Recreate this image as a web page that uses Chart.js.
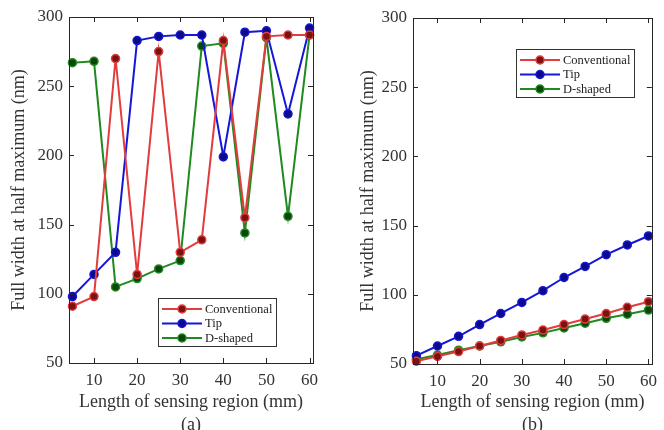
<!DOCTYPE html>
<html>
<head>
<meta charset="utf-8">
<script src="https://cdn.jsdelivr.net/npm/chart.js@4.4.0/dist/chart.umd.min.js"></script>
<style>
    html, body { margin: 0; padding: 0; background: #fff; overflow: hidden; width: 664px; height: 430px; }
    #wrap { position: relative; width: 664px; height: 430px; }
    canvas { position: absolute; top: 0; }
    #chartA { left: 0; }
    #chartB { left: 332px; }
</style>
</head>
<body>
<div id="wrap">
    <canvas id="chartA" width="332" height="440"></canvas>
    <canvas id="chartB" width="332" height="440"></canvas>
</div>
<script>
const lengths = [5, 10, 15, 20, 25, 30, 35, 40, 45, 50, 55, 60];
const xTicks = [10, 20, 30, 40, 50, 60];
const yTicks = [50, 100, 150, 200, 250, 300];
const seriesNames = ['Conventional', 'Tip', 'D-shaped'];

// (a)
const convA = [91, 98, 270, 114, 275, 130, 139, 283, 155, 286, 287, 287];
const tipA  = [98, 114, 130, 283, 286, 287, 287, 199, 289, 290, 230, 292];
const dA    = [267, 268, 105, 111, 118, 124, 279, 281, 144, 285, 156, 287];

// (b)
const convB = [52, 55.5, 59, 63, 67, 71, 74.5, 78.5, 82.5, 86.5, 91, 95];
const tipB  = [56, 63, 70, 78.5, 86.5, 94.5, 103, 112.5, 120.5, 129, 136, 142.5];
const dB    = [53.5, 56.5, 60, 63, 66, 69.5, 72.5, 76, 79.5, 83, 86, 89];

const lineColors = ['#e23c3c', '#1616d6', '#1f8a1f'];
const markerFill = ['#7a1212', '#0b0b8a', '#0c440c'];

const serif = 'Liberation Serif, Times New Roman, serif';
const ink = '#333333';

// box, inward ticks on all four sides, and legend inside the plot
const framePlugin = {
    id: 'frame',
    afterDatasetsDraw(chart, args, o) {
        const { ctx, chartArea: a, scales: { x, y } } = chart;
        ctx.save();
        ctx.strokeStyle = '#262626';
        ctx.lineWidth = 1;
        ctx.beginPath();
        xTicks.forEach(v => {
            const p = Math.round(x.getPixelForValue(v)) + 0.5;
            ctx.moveTo(p, a.bottom); ctx.lineTo(p, a.bottom - 5);
            ctx.moveTo(p, a.top); ctx.lineTo(p, a.top + 5);
        });
        yTicks.forEach(v => {
            const p = Math.round(y.getPixelForValue(v)) + 0.5;
            ctx.moveTo(a.left, p); ctx.lineTo(a.left + 5, p);
            ctx.moveTo(a.right, p); ctx.lineTo(a.right - 5, p);
        });
        ctx.stroke();
        ctx.strokeRect(Math.round(a.left) + 0.5, Math.round(a.top) + 0.5,
            Math.round(a.right - a.left), Math.round(a.bottom - a.top));

        // legend
        const lx = o.lx, ly = o.ly;
        ctx.fillStyle = '#fff';
        ctx.fillRect(lx, ly, 118, 48);
        ctx.strokeStyle = '#333';
        ctx.strokeRect(lx + 0.5, ly + 0.5, 118, 48);
        ctx.font = '12.5px ' + serif;
        ctx.textBaseline = 'middle';
        chart.data.datasets.forEach((ds, i) => {
            const yy = ly + 11 + i * 14.5;
            ctx.strokeStyle = ds.borderColor;
            ctx.lineWidth = 2;
            ctx.beginPath();
            ctx.moveTo(lx + 4, yy); ctx.lineTo(lx + 44, yy);
            ctx.stroke();
            ctx.beginPath();
            ctx.arc(lx + 24, yy, 4, 0, Math.PI * 2);
            ctx.fillStyle = ds.pointBackgroundColor;
            ctx.fill();
            ctx.lineWidth = 1.5;
            ctx.stroke();
            ctx.fillStyle = '#222';
            ctx.fillText(ds.label, lx + 47, yy + 0.5);
        });
        ctx.restore();
    }
};

function makeSets(series) {
    return series.map((vals, i) => ({
        label: seriesNames[i],
        data: lengths.map((l, k) => ({ x: l, y: vals[k] })),
        borderColor: lineColors[i],
        backgroundColor: lineColors[i],
        pointBackgroundColor: markerFill[i],
        pointBorderColor: lineColors[i],
        borderWidth: 2,
        pointRadius: 4,
        pointBorderWidth: 1.5,
        tension: 0,
        clip: false
    }));
}

function makeChart(id, series, panel, cfg) {
    return new Chart(document.getElementById(id), {
        type: 'line',
        data: { datasets: makeSets(series) },
        options: {
            responsive: false,
            animation: false,
            devicePixelRatio: 1,
            layout: { autoPadding: false, padding: cfg.padding },
            plugins: {
                legend: { display: false },
                tooltip: { enabled: false },
                frame: { lx: cfg.lx, ly: cfg.ly }
            },
            scales: {
                x: {
                    type: 'linear', min: 4.2, max: 60.8,
                    afterBuildTicks: s => { s.ticks = xTicks.map(v => ({ value: v })); },
                    afterFit: s => { s.height = cfg.xh; },
                    grid: { display: false, drawTicks: false },
                    border: { display: false },
                    ticks: { color: ink, padding: 7, maxRotation: 0, font: { family: serif, size: 17 } },
                    title: {
                        display: true,
                        text: ['Length of sensing region (mm)', panel],
                        color: ink,
                        padding: { top: 0, bottom: 3.5 },
                        font: { family: serif, size: 18, lineHeight: 1.28 }
                    }
                },
                y: {
                    min: 50, max: 300,
                    afterBuildTicks: s => { s.ticks = yTicks.map(v => ({ value: v })); },
                    afterFit: s => { s.width = cfg.yw; },
                    grid: { display: false, drawTicks: false },
                    border: { display: false },
                    ticks: { color: ink, padding: 6, font: { family: serif, size: 17 } },
                    title: {
                        display: true,
                        text: 'Full width at half maximum (nm)',
                        color: ink,
                        padding: { top: cfg.ytp, bottom: 0 },
                        font: { family: serif, size: 18, lineHeight: 1.28 }
                    }
                }
            }
        },
        plugins: [framePlugin]
    });
}

makeChart('chartA', [convA, tipA, dA], '(a)', {
    padding: { left: 0, top: 17, right: 19, bottom: 0 },
    yw: 69, xh: 77, ytp: 7.5, lx: 158, ly: 298
});

makeChart('chartB', [convB, tipB, dB], '(b)', {
    padding: { left: 19, top: 18, right: 6, bottom: 0 },
    yw: 62, xh: 76, ytp: 5.5, lx: 184, ly: 49
});
</script>
</body>
</html>
